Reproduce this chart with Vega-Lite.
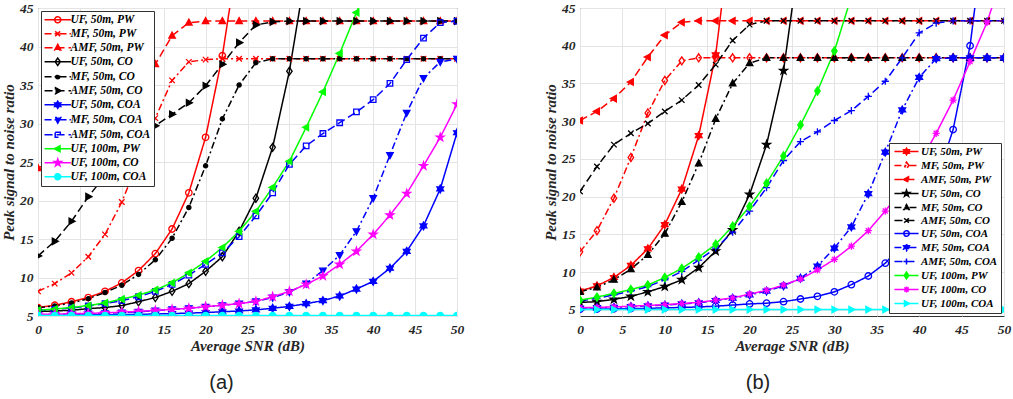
{
"$schema": "https://vega.github.io/schema/vega-lite/v6.json",
"background": "white",
"padding": {"left": 1, "top": 0, "right": 4, "bottom": 4},
"spacing": 78,
"config": {
  "font": "Liberation Serif",
  "view": {"stroke": "#333333", "strokeWidth": 1},
  "axis": {"labelFont": "Liberation Serif", "labelFontSize": 13.5, "labelFontWeight": "bold", "labelFontStyle": "italic", "labelColor": "#262626",
           "titleFont": "Liberation Serif", "titleFontSize": 15, "titleFontWeight": "bold", "titleFontStyle": "italic", "titleColor": "#262626",
           "grid": true, "gridColor": "#e4e4e4", "domain": false, "ticks": false},
  "legend": {"labelFont": "Liberation Serif", "labelFontWeight": "bold", "labelFontStyle": "italic", "labelColor": "#000000", "labelLimit": 300}
},
"resolve": {"scale": {"color": "independent", "stroke": "independent", "fill": "independent", "shape": "independent", "strokeDash": "independent", "x": "independent", "y": "independent"}, "legend": {"color": "independent"}},
"datasets": {
"a": [
{"s":"UF, 50m, PW","x":0,"y":6.1},{"s":"UF, 50m, PW","x":2,"y":6.4},{"s":"UF, 50m, PW","x":4,"y":6.85},{"s":"UF, 50m, PW","x":6,"y":7.4},{"s":"UF, 50m, PW","x":8,"y":8.2},{"s":"UF, 50m, PW","x":10,"y":9.3},{"s":"UF, 50m, PW","x":12,"y":10.9},{"s":"UF, 50m, PW","x":14,"y":13.1},{"s":"UF, 50m, PW","x":16,"y":16.3},{"s":"UF, 50m, PW","x":18,"y":21.0},{"s":"UF, 50m, PW","x":20,"y":28.2},{"s":"UF, 50m, PW","x":22,"y":38.8},{"s":"UF, 50m, PW","x":24,"y":53},
{"s":"MF, 50m, PW","x":0,"y":8.2},{"s":"MF, 50m, PW","x":2,"y":9.2},{"s":"MF, 50m, PW","x":4,"y":10.6},{"s":"MF, 50m, PW","x":6,"y":12.7},{"s":"MF, 50m, PW","x":8,"y":15.6},{"s":"MF, 50m, PW","x":10,"y":19.8},{"s":"MF, 50m, PW","x":12,"y":25.2},{"s":"MF, 50m, PW","x":14,"y":30.7},{"s":"MF, 50m, PW","x":16,"y":35.6},{"s":"MF, 50m, PW","x":18,"y":38.0},{"s":"MF, 50m, PW","x":20,"y":38.3},{"s":"MF, 50m, PW","x":22,"y":38.4},{"s":"MF, 50m, PW","x":24,"y":38.4},{"s":"MF, 50m, PW","x":26,"y":38.4},{"s":"MF, 50m, PW","x":28,"y":38.4},{"s":"MF, 50m, PW","x":30,"y":38.4},{"s":"MF, 50m, PW","x":32,"y":38.4},{"s":"MF, 50m, PW","x":34,"y":38.4},{"s":"MF, 50m, PW","x":36,"y":38.4},{"s":"MF, 50m, PW","x":38,"y":38.4},{"s":"MF, 50m, PW","x":40,"y":38.4},{"s":"MF, 50m, PW","x":42,"y":38.4},{"s":"MF, 50m, PW","x":44,"y":38.4},{"s":"MF, 50m, PW","x":46,"y":38.4},{"s":"MF, 50m, PW","x":48,"y":38.4},{"s":"MF, 50m, PW","x":50,"y":38.4},
{"s":"AMF, 50m, PW","x":0,"y":24.2},{"s":"AMF, 50m, PW","x":2,"y":25.3},{"s":"AMF, 50m, PW","x":4,"y":26.5},{"s":"AMF, 50m, PW","x":6,"y":28.0},{"s":"AMF, 50m, PW","x":8,"y":29.8},{"s":"AMF, 50m, PW","x":10,"y":32.0},{"s":"AMF, 50m, PW","x":12,"y":34.6},{"s":"AMF, 50m, PW","x":14,"y":37.7},{"s":"AMF, 50m, PW","x":16,"y":41.4},{"s":"AMF, 50m, PW","x":18,"y":43.1},{"s":"AMF, 50m, PW","x":20,"y":43.3},{"s":"AMF, 50m, PW","x":22,"y":43.3},{"s":"AMF, 50m, PW","x":24,"y":43.3},{"s":"AMF, 50m, PW","x":26,"y":43.3},{"s":"AMF, 50m, PW","x":28,"y":43.3},{"s":"AMF, 50m, PW","x":30,"y":43.3},{"s":"AMF, 50m, PW","x":32,"y":43.3},{"s":"AMF, 50m, PW","x":34,"y":43.3},{"s":"AMF, 50m, PW","x":36,"y":43.3},{"s":"AMF, 50m, PW","x":38,"y":43.3},{"s":"AMF, 50m, PW","x":40,"y":43.3},{"s":"AMF, 50m, PW","x":42,"y":43.3},{"s":"AMF, 50m, PW","x":44,"y":43.3},{"s":"AMF, 50m, PW","x":46,"y":43.3},{"s":"AMF, 50m, PW","x":48,"y":43.3},{"s":"AMF, 50m, PW","x":50,"y":43.3},
{"s":"UF, 50m, CO","x":0,"y":5.6},{"s":"UF, 50m, CO","x":2,"y":5.65},{"s":"UF, 50m, CO","x":4,"y":5.75},{"s":"UF, 50m, CO","x":6,"y":5.95},{"s":"UF, 50m, CO","x":8,"y":6.1},{"s":"UF, 50m, CO","x":10,"y":6.35},{"s":"UF, 50m, CO","x":12,"y":6.85},{"s":"UF, 50m, CO","x":14,"y":7.4},{"s":"UF, 50m, CO","x":16,"y":8.2},{"s":"UF, 50m, CO","x":18,"y":9.2},{"s":"UF, 50m, CO","x":20,"y":10.8},{"s":"UF, 50m, CO","x":22,"y":12.7},{"s":"UF, 50m, CO","x":24,"y":16.0},{"s":"UF, 50m, CO","x":26,"y":20.3},{"s":"UF, 50m, CO","x":28,"y":26.9},{"s":"UF, 50m, CO","x":30,"y":36.8},{"s":"UF, 50m, CO","x":32,"y":50},
{"s":"MF, 50m, CO","x":0,"y":6.1},{"s":"MF, 50m, CO","x":2,"y":6.3},{"s":"MF, 50m, CO","x":4,"y":6.7},{"s":"MF, 50m, CO","x":6,"y":7.25},{"s":"MF, 50m, CO","x":8,"y":8.05},{"s":"MF, 50m, CO","x":10,"y":9.0},{"s":"MF, 50m, CO","x":12,"y":10.4},{"s":"MF, 50m, CO","x":14,"y":12.3},{"s":"MF, 50m, CO","x":16,"y":15.1},{"s":"MF, 50m, CO","x":18,"y":19.1},{"s":"MF, 50m, CO","x":20,"y":24.5},{"s":"MF, 50m, CO","x":22,"y":30.6},{"s":"MF, 50m, CO","x":24,"y":35.0},{"s":"MF, 50m, CO","x":26,"y":37.9},{"s":"MF, 50m, CO","x":28,"y":38.4},{"s":"MF, 50m, CO","x":30,"y":38.4},{"s":"MF, 50m, CO","x":32,"y":38.4},{"s":"MF, 50m, CO","x":34,"y":38.4},{"s":"MF, 50m, CO","x":36,"y":38.4},{"s":"MF, 50m, CO","x":38,"y":38.4},{"s":"MF, 50m, CO","x":40,"y":38.4},{"s":"MF, 50m, CO","x":42,"y":38.4},{"s":"MF, 50m, CO","x":44,"y":38.4},{"s":"MF, 50m, CO","x":46,"y":38.4},{"s":"MF, 50m, CO","x":48,"y":38.4},{"s":"MF, 50m, CO","x":50,"y":38.4},
{"s":"AMF, 50m, CO","x":0,"y":12.8},{"s":"AMF, 50m, CO","x":2,"y":14.7},{"s":"AMF, 50m, CO","x":4,"y":17.3},{"s":"AMF, 50m, CO","x":6,"y":20.5},{"s":"AMF, 50m, CO","x":8,"y":23.2},{"s":"AMF, 50m, CO","x":10,"y":25.6},{"s":"AMF, 50m, CO","x":12,"y":27.8},{"s":"AMF, 50m, CO","x":14,"y":29.7},{"s":"AMF, 50m, CO","x":16,"y":31.2},{"s":"AMF, 50m, CO","x":18,"y":32.7},{"s":"AMF, 50m, CO","x":20,"y":34.9},{"s":"AMF, 50m, CO","x":22,"y":37.7},{"s":"AMF, 50m, CO","x":24,"y":40.5},{"s":"AMF, 50m, CO","x":26,"y":42.8},{"s":"AMF, 50m, CO","x":28,"y":43.2},{"s":"AMF, 50m, CO","x":30,"y":43.3},{"s":"AMF, 50m, CO","x":32,"y":43.3},{"s":"AMF, 50m, CO","x":34,"y":43.3},{"s":"AMF, 50m, CO","x":36,"y":43.3},{"s":"AMF, 50m, CO","x":38,"y":43.3},{"s":"AMF, 50m, CO","x":40,"y":43.3},{"s":"AMF, 50m, CO","x":42,"y":43.3},{"s":"AMF, 50m, CO","x":44,"y":43.3},{"s":"AMF, 50m, CO","x":46,"y":43.3},{"s":"AMF, 50m, CO","x":48,"y":43.3},{"s":"AMF, 50m, CO","x":50,"y":43.3},
{"s":"UF, 50m, COA","x":0,"y":5.1},{"s":"UF, 50m, COA","x":2,"y":5.1},{"s":"UF, 50m, COA","x":4,"y":5.12},{"s":"UF, 50m, COA","x":6,"y":5.14},{"s":"UF, 50m, COA","x":8,"y":5.16},{"s":"UF, 50m, COA","x":10,"y":5.19},{"s":"UF, 50m, COA","x":12,"y":5.22},{"s":"UF, 50m, COA","x":14,"y":5.26},{"s":"UF, 50m, COA","x":16,"y":5.31},{"s":"UF, 50m, COA","x":18,"y":5.38},{"s":"UF, 50m, COA","x":20,"y":5.45},{"s":"UF, 50m, COA","x":22,"y":5.55},{"s":"UF, 50m, COA","x":24,"y":5.65},{"s":"UF, 50m, COA","x":26,"y":5.8},{"s":"UF, 50m, COA","x":28,"y":6.0},{"s":"UF, 50m, COA","x":30,"y":6.25},{"s":"UF, 50m, COA","x":32,"y":6.6},{"s":"UF, 50m, COA","x":34,"y":7.0},{"s":"UF, 50m, COA","x":36,"y":7.6},{"s":"UF, 50m, COA","x":38,"y":8.5},{"s":"UF, 50m, COA","x":40,"y":9.5},{"s":"UF, 50m, COA","x":42,"y":11.2},{"s":"UF, 50m, COA","x":44,"y":13.4},{"s":"UF, 50m, COA","x":46,"y":16.7},{"s":"UF, 50m, COA","x":48,"y":21.5},{"s":"UF, 50m, COA","x":50,"y":28.8},
{"s":"MF, 50m, COA","x":0,"y":5.15},{"s":"MF, 50m, COA","x":2,"y":5.2},{"s":"MF, 50m, COA","x":4,"y":5.25},{"s":"MF, 50m, COA","x":6,"y":5.3},{"s":"MF, 50m, COA","x":8,"y":5.35},{"s":"MF, 50m, COA","x":10,"y":5.45},{"s":"MF, 50m, COA","x":12,"y":5.55},{"s":"MF, 50m, COA","x":14,"y":5.7},{"s":"MF, 50m, COA","x":16,"y":5.85},{"s":"MF, 50m, COA","x":18,"y":6.0},{"s":"MF, 50m, COA","x":20,"y":6.2},{"s":"MF, 50m, COA","x":22,"y":6.4},{"s":"MF, 50m, COA","x":24,"y":6.6},{"s":"MF, 50m, COA","x":26,"y":6.9},{"s":"MF, 50m, COA","x":28,"y":7.4},{"s":"MF, 50m, COA","x":30,"y":8.1},{"s":"MF, 50m, COA","x":32,"y":9.2},{"s":"MF, 50m, COA","x":34,"y":10.9},{"s":"MF, 50m, COA","x":36,"y":12.9},{"s":"MF, 50m, COA","x":38,"y":16.0},{"s":"MF, 50m, COA","x":40,"y":20.3},{"s":"MF, 50m, COA","x":42,"y":25.9},{"s":"MF, 50m, COA","x":44,"y":31.4},{"s":"MF, 50m, COA","x":46,"y":35.9},{"s":"MF, 50m, COA","x":48,"y":38.0},{"s":"MF, 50m, COA","x":50,"y":38.4},
{"s":"AMF, 50m, COA","x":0,"y":5.7},{"s":"AMF, 50m, COA","x":2,"y":5.85},{"s":"AMF, 50m, COA","x":4,"y":6.05},{"s":"AMF, 50m, COA","x":6,"y":6.3},{"s":"AMF, 50m, COA","x":8,"y":6.6},{"s":"AMF, 50m, COA","x":10,"y":7.0},{"s":"AMF, 50m, COA","x":12,"y":7.5},{"s":"AMF, 50m, COA","x":14,"y":8.2},{"s":"AMF, 50m, COA","x":16,"y":9.1},{"s":"AMF, 50m, COA","x":18,"y":10.3},{"s":"AMF, 50m, COA","x":20,"y":11.7},{"s":"AMF, 50m, COA","x":22,"y":13.2},{"s":"AMF, 50m, COA","x":24,"y":15.3},{"s":"AMF, 50m, COA","x":26,"y":18.0},{"s":"AMF, 50m, COA","x":28,"y":21.0},{"s":"AMF, 50m, COA","x":30,"y":24.7},{"s":"AMF, 50m, COA","x":32,"y":27.1},{"s":"AMF, 50m, COA","x":34,"y":28.7},{"s":"AMF, 50m, COA","x":36,"y":30.1},{"s":"AMF, 50m, COA","x":38,"y":31.5},{"s":"AMF, 50m, COA","x":40,"y":33.1},{"s":"AMF, 50m, COA","x":42,"y":35.2},{"s":"AMF, 50m, COA","x":44,"y":38.3},{"s":"AMF, 50m, COA","x":46,"y":41.1},{"s":"AMF, 50m, COA","x":48,"y":43.1},{"s":"AMF, 50m, COA","x":50,"y":43.3},
{"s":"UF, 100m, PW","x":0,"y":5.75},{"s":"UF, 100m, PW","x":2,"y":5.9},{"s":"UF, 100m, PW","x":4,"y":6.1},{"s":"UF, 100m, PW","x":6,"y":6.35},{"s":"UF, 100m, PW","x":8,"y":6.7},{"s":"UF, 100m, PW","x":10,"y":7.2},{"s":"UF, 100m, PW","x":12,"y":7.7},{"s":"UF, 100m, PW","x":14,"y":8.4},{"s":"UF, 100m, PW","x":16,"y":9.3},{"s":"UF, 100m, PW","x":18,"y":10.6},{"s":"UF, 100m, PW","x":20,"y":12.1},{"s":"UF, 100m, PW","x":22,"y":13.9},{"s":"UF, 100m, PW","x":24,"y":16.0},{"s":"UF, 100m, PW","x":26,"y":18.6},{"s":"UF, 100m, PW","x":28,"y":21.7},{"s":"UF, 100m, PW","x":30,"y":25.1},{"s":"UF, 100m, PW","x":32,"y":29.5},{"s":"UF, 100m, PW","x":34,"y":34.1},{"s":"UF, 100m, PW","x":36,"y":39.1},{"s":"UF, 100m, PW","x":38,"y":44.4},{"s":"UF, 100m, PW","x":40,"y":50},
{"s":"UF, 100m, CO","x":0,"y":5.2},{"s":"UF, 100m, CO","x":2,"y":5.25},{"s":"UF, 100m, CO","x":4,"y":5.3},{"s":"UF, 100m, CO","x":6,"y":5.35},{"s":"UF, 100m, CO","x":8,"y":5.4},{"s":"UF, 100m, CO","x":10,"y":5.5},{"s":"UF, 100m, CO","x":12,"y":5.6},{"s":"UF, 100m, CO","x":14,"y":5.72},{"s":"UF, 100m, CO","x":16,"y":5.85},{"s":"UF, 100m, CO","x":18,"y":6.0},{"s":"UF, 100m, CO","x":20,"y":6.2},{"s":"UF, 100m, CO","x":22,"y":6.4},{"s":"UF, 100m, CO","x":24,"y":6.6},{"s":"UF, 100m, CO","x":26,"y":6.9},{"s":"UF, 100m, CO","x":28,"y":7.5},{"s":"UF, 100m, CO","x":30,"y":8.2},{"s":"UF, 100m, CO","x":32,"y":9.1},{"s":"UF, 100m, CO","x":34,"y":10.2},{"s":"UF, 100m, CO","x":36,"y":11.7},{"s":"UF, 100m, CO","x":38,"y":13.4},{"s":"UF, 100m, CO","x":40,"y":15.6},{"s":"UF, 100m, CO","x":42,"y":18.1},{"s":"UF, 100m, CO","x":44,"y":20.9},{"s":"UF, 100m, CO","x":46,"y":24.5},{"s":"UF, 100m, CO","x":48,"y":28.2},{"s":"UF, 100m, CO","x":50,"y":32.5},
{"s":"UF, 100m, COA","x":0,"y":5.05},{"s":"UF, 100m, COA","x":2,"y":5.05},{"s":"UF, 100m, COA","x":4,"y":5.05},{"s":"UF, 100m, COA","x":6,"y":5.05},{"s":"UF, 100m, COA","x":8,"y":5.05},{"s":"UF, 100m, COA","x":10,"y":5.05},{"s":"UF, 100m, COA","x":12,"y":5.05},{"s":"UF, 100m, COA","x":14,"y":5.05},{"s":"UF, 100m, COA","x":16,"y":5.05},{"s":"UF, 100m, COA","x":18,"y":5.05},{"s":"UF, 100m, COA","x":20,"y":5.05},{"s":"UF, 100m, COA","x":22,"y":5.05},{"s":"UF, 100m, COA","x":24,"y":5.05},{"s":"UF, 100m, COA","x":26,"y":5.05},{"s":"UF, 100m, COA","x":28,"y":5.05},{"s":"UF, 100m, COA","x":30,"y":5.05},{"s":"UF, 100m, COA","x":32,"y":5.05},{"s":"UF, 100m, COA","x":34,"y":5.05},{"s":"UF, 100m, COA","x":36,"y":5.05},{"s":"UF, 100m, COA","x":38,"y":5.05},{"s":"UF, 100m, COA","x":40,"y":5.05},{"s":"UF, 100m, COA","x":42,"y":5.05},{"s":"UF, 100m, COA","x":44,"y":5.05},{"s":"UF, 100m, COA","x":46,"y":5.05},{"s":"UF, 100m, COA","x":48,"y":5.05},{"s":"UF, 100m, COA","x":50,"y":5.05}
],
"b": [
{"s":"UF, 50m, PW","x":0,"y":7.5},{"s":"UF, 50m, PW","x":2,"y":8.2},{"s":"UF, 50m, PW","x":4,"y":9.3},{"s":"UF, 50m, PW","x":6,"y":10.9},{"s":"UF, 50m, PW","x":8,"y":13.1},{"s":"UF, 50m, PW","x":10,"y":16.3},{"s":"UF, 50m, PW","x":12,"y":21.0},{"s":"UF, 50m, PW","x":14,"y":28.1},{"s":"UF, 50m, PW","x":16,"y":38.8},{"s":"UF, 50m, PW","x":18,"y":57},
{"s":"MF, 50m, PW","x":0,"y":12.7},{"s":"MF, 50m, PW","x":2,"y":15.5},{"s":"MF, 50m, PW","x":4,"y":19.8},{"s":"MF, 50m, PW","x":6,"y":25.2},{"s":"MF, 50m, PW","x":8,"y":31.1},{"s":"MF, 50m, PW","x":10,"y":35.4},{"s":"MF, 50m, PW","x":12,"y":38.0},{"s":"MF, 50m, PW","x":14,"y":38.4},{"s":"MF, 50m, PW","x":16,"y":38.4},{"s":"MF, 50m, PW","x":18,"y":38.4},{"s":"MF, 50m, PW","x":20,"y":38.4},{"s":"MF, 50m, PW","x":22,"y":38.4},{"s":"MF, 50m, PW","x":24,"y":38.4},{"s":"MF, 50m, PW","x":26,"y":38.4},{"s":"MF, 50m, PW","x":28,"y":38.4},{"s":"MF, 50m, PW","x":30,"y":38.4},{"s":"MF, 50m, PW","x":32,"y":38.4},{"s":"MF, 50m, PW","x":34,"y":38.4},{"s":"MF, 50m, PW","x":36,"y":38.4},{"s":"MF, 50m, PW","x":38,"y":38.4},{"s":"MF, 50m, PW","x":40,"y":38.4},{"s":"MF, 50m, PW","x":42,"y":38.4},{"s":"MF, 50m, PW","x":44,"y":38.4},{"s":"MF, 50m, PW","x":46,"y":38.4},{"s":"MF, 50m, PW","x":48,"y":38.4},{"s":"MF, 50m, PW","x":50,"y":38.4},
{"s":"AMF, 50m, PW","x":0,"y":30.1},{"s":"AMF, 50m, PW","x":2,"y":31.3},{"s":"AMF, 50m, PW","x":4,"y":33.0},{"s":"AMF, 50m, PW","x":6,"y":35.2},{"s":"AMF, 50m, PW","x":8,"y":38.5},{"s":"AMF, 50m, PW","x":10,"y":41.4},{"s":"AMF, 50m, PW","x":12,"y":43.1},{"s":"AMF, 50m, PW","x":14,"y":43.3},{"s":"AMF, 50m, PW","x":16,"y":43.3},{"s":"AMF, 50m, PW","x":18,"y":43.3},{"s":"AMF, 50m, PW","x":20,"y":43.3},{"s":"AMF, 50m, PW","x":22,"y":43.3},{"s":"AMF, 50m, PW","x":24,"y":43.3},{"s":"AMF, 50m, PW","x":26,"y":43.3},{"s":"AMF, 50m, PW","x":28,"y":43.3},{"s":"AMF, 50m, PW","x":30,"y":43.3},{"s":"AMF, 50m, PW","x":32,"y":43.3},{"s":"AMF, 50m, PW","x":34,"y":43.3},{"s":"AMF, 50m, PW","x":36,"y":43.3},{"s":"AMF, 50m, PW","x":38,"y":43.3},{"s":"AMF, 50m, PW","x":40,"y":43.3},{"s":"AMF, 50m, PW","x":42,"y":43.3},{"s":"AMF, 50m, PW","x":44,"y":43.3},{"s":"AMF, 50m, PW","x":46,"y":43.3},{"s":"AMF, 50m, PW","x":48,"y":43.3},{"s":"AMF, 50m, PW","x":50,"y":43.3},
{"s":"UF, 50m, CO","x":0,"y":6.0},{"s":"UF, 50m, CO","x":2,"y":6.1},{"s":"UF, 50m, CO","x":4,"y":6.4},{"s":"UF, 50m, CO","x":6,"y":6.8},{"s":"UF, 50m, CO","x":8,"y":7.4},{"s":"UF, 50m, CO","x":10,"y":8.1},{"s":"UF, 50m, CO","x":12,"y":9.0},{"s":"UF, 50m, CO","x":14,"y":10.6},{"s":"UF, 50m, CO","x":16,"y":12.8},{"s":"UF, 50m, CO","x":18,"y":15.6},{"s":"UF, 50m, CO","x":20,"y":20.3},{"s":"UF, 50m, CO","x":22,"y":26.9},{"s":"UF, 50m, CO","x":24,"y":36.7},{"s":"UF, 50m, CO","x":26,"y":53},
{"s":"MF, 50m, CO","x":0,"y":7.4},{"s":"MF, 50m, CO","x":2,"y":8.0},{"s":"MF, 50m, CO","x":4,"y":9.0},{"s":"MF, 50m, CO","x":6,"y":10.4},{"s":"MF, 50m, CO","x":8,"y":12.3},{"s":"MF, 50m, CO","x":10,"y":15.1},{"s":"MF, 50m, CO","x":12,"y":19.3},{"s":"MF, 50m, CO","x":14,"y":24.4},{"s":"MF, 50m, CO","x":16,"y":30.3},{"s":"MF, 50m, CO","x":18,"y":35.0},{"s":"MF, 50m, CO","x":20,"y":37.7},{"s":"MF, 50m, CO","x":22,"y":38.4},{"s":"MF, 50m, CO","x":24,"y":38.4},{"s":"MF, 50m, CO","x":26,"y":38.4},{"s":"MF, 50m, CO","x":28,"y":38.4},{"s":"MF, 50m, CO","x":30,"y":38.4},{"s":"MF, 50m, CO","x":32,"y":38.4},{"s":"MF, 50m, CO","x":34,"y":38.4},{"s":"MF, 50m, CO","x":36,"y":38.4},{"s":"MF, 50m, CO","x":38,"y":38.4},{"s":"MF, 50m, CO","x":40,"y":38.4},{"s":"MF, 50m, CO","x":42,"y":38.4},{"s":"MF, 50m, CO","x":44,"y":38.4},{"s":"MF, 50m, CO","x":46,"y":38.4},{"s":"MF, 50m, CO","x":48,"y":38.4},{"s":"MF, 50m, CO","x":50,"y":38.4},
{"s":"AMF, 50m, CO","x":0,"y":20.7},{"s":"AMF, 50m, CO","x":2,"y":24.0},{"s":"AMF, 50m, CO","x":4,"y":26.9},{"s":"AMF, 50m, CO","x":6,"y":28.4},{"s":"AMF, 50m, CO","x":8,"y":29.7},{"s":"AMF, 50m, CO","x":10,"y":31.3},{"s":"AMF, 50m, CO","x":12,"y":32.8},{"s":"AMF, 50m, CO","x":14,"y":34.8},{"s":"AMF, 50m, CO","x":16,"y":37.5},{"s":"AMF, 50m, CO","x":18,"y":40.7},{"s":"AMF, 50m, CO","x":20,"y":42.8},{"s":"AMF, 50m, CO","x":22,"y":43.3},{"s":"AMF, 50m, CO","x":24,"y":43.3},{"s":"AMF, 50m, CO","x":26,"y":43.3},{"s":"AMF, 50m, CO","x":28,"y":43.3},{"s":"AMF, 50m, CO","x":30,"y":43.3},{"s":"AMF, 50m, CO","x":32,"y":43.3},{"s":"AMF, 50m, CO","x":34,"y":43.3},{"s":"AMF, 50m, CO","x":36,"y":43.3},{"s":"AMF, 50m, CO","x":38,"y":43.3},{"s":"AMF, 50m, CO","x":40,"y":43.3},{"s":"AMF, 50m, CO","x":42,"y":43.3},{"s":"AMF, 50m, CO","x":44,"y":43.3},{"s":"AMF, 50m, CO","x":46,"y":43.3},{"s":"AMF, 50m, CO","x":48,"y":43.3},{"s":"AMF, 50m, CO","x":50,"y":43.3},
{"s":"UF, 50m, COA","x":0,"y":5.1},{"s":"UF, 50m, COA","x":2,"y":5.12},{"s":"UF, 50m, COA","x":4,"y":5.15},{"s":"UF, 50m, COA","x":6,"y":5.18},{"s":"UF, 50m, COA","x":8,"y":5.22},{"s":"UF, 50m, COA","x":10,"y":5.27},{"s":"UF, 50m, COA","x":12,"y":5.33},{"s":"UF, 50m, COA","x":14,"y":5.4},{"s":"UF, 50m, COA","x":16,"y":5.5},{"s":"UF, 50m, COA","x":18,"y":5.65},{"s":"UF, 50m, COA","x":20,"y":5.8},{"s":"UF, 50m, COA","x":22,"y":5.9},{"s":"UF, 50m, COA","x":24,"y":6.1},{"s":"UF, 50m, COA","x":26,"y":6.45},{"s":"UF, 50m, COA","x":28,"y":6.8},{"s":"UF, 50m, COA","x":30,"y":7.4},{"s":"UF, 50m, COA","x":32,"y":8.35},{"s":"UF, 50m, COA","x":34,"y":9.5},{"s":"UF, 50m, COA","x":36,"y":11.2},{"s":"UF, 50m, COA","x":38,"y":13.6},{"s":"UF, 50m, COA","x":40,"y":17.2},{"s":"UF, 50m, COA","x":42,"y":22.0},{"s":"UF, 50m, COA","x":44,"y":28.9},{"s":"UF, 50m, COA","x":46,"y":40.0},{"s":"UF, 50m, COA","x":48,"y":58},
{"s":"MF, 50m, COA","x":0,"y":5.25},{"s":"MF, 50m, COA","x":2,"y":5.3},{"s":"MF, 50m, COA","x":4,"y":5.35},{"s":"MF, 50m, COA","x":6,"y":5.45},{"s":"MF, 50m, COA","x":8,"y":5.55},{"s":"MF, 50m, COA","x":10,"y":5.65},{"s":"MF, 50m, COA","x":12,"y":5.8},{"s":"MF, 50m, COA","x":14,"y":5.95},{"s":"MF, 50m, COA","x":16,"y":6.25},{"s":"MF, 50m, COA","x":18,"y":6.55},{"s":"MF, 50m, COA","x":20,"y":7.0},{"s":"MF, 50m, COA","x":22,"y":7.5},{"s":"MF, 50m, COA","x":24,"y":8.2},{"s":"MF, 50m, COA","x":26,"y":9.2},{"s":"MF, 50m, COA","x":28,"y":10.8},{"s":"MF, 50m, COA","x":30,"y":13.2},{"s":"MF, 50m, COA","x":32,"y":16.0},{"s":"MF, 50m, COA","x":34,"y":20.4},{"s":"MF, 50m, COA","x":36,"y":25.9},{"s":"MF, 50m, COA","x":38,"y":31.5},{"s":"MF, 50m, COA","x":40,"y":35.8},{"s":"MF, 50m, COA","x":42,"y":38.3},{"s":"MF, 50m, COA","x":44,"y":38.4},{"s":"MF, 50m, COA","x":46,"y":38.4},{"s":"MF, 50m, COA","x":48,"y":38.4},{"s":"MF, 50m, COA","x":50,"y":38.4},
{"s":"AMF, 50m, COA","x":0,"y":6.2},{"s":"AMF, 50m, COA","x":2,"y":6.55},{"s":"AMF, 50m, COA","x":4,"y":7.0},{"s":"AMF, 50m, COA","x":6,"y":7.5},{"s":"AMF, 50m, COA","x":8,"y":8.1},{"s":"AMF, 50m, COA","x":10,"y":9.0},{"s":"AMF, 50m, COA","x":12,"y":10.1},{"s":"AMF, 50m, COA","x":14,"y":11.6},{"s":"AMF, 50m, COA","x":16,"y":13.2},{"s":"AMF, 50m, COA","x":18,"y":15.3},{"s":"AMF, 50m, COA","x":20,"y":18.1},{"s":"AMF, 50m, COA","x":22,"y":21.2},{"s":"AMF, 50m, COA","x":24,"y":24.8},{"s":"AMF, 50m, COA","x":26,"y":27.3},{"s":"AMF, 50m, COA","x":28,"y":28.6},{"s":"AMF, 50m, COA","x":30,"y":30.1},{"s":"AMF, 50m, COA","x":32,"y":31.4},{"s":"AMF, 50m, COA","x":34,"y":33.3},{"s":"AMF, 50m, COA","x":36,"y":35.3},{"s":"AMF, 50m, COA","x":38,"y":38.4},{"s":"AMF, 50m, COA","x":40,"y":41.7},{"s":"AMF, 50m, COA","x":42,"y":43.0},{"s":"AMF, 50m, COA","x":44,"y":43.3},{"s":"AMF, 50m, COA","x":46,"y":43.3},{"s":"AMF, 50m, COA","x":48,"y":43.3},{"s":"AMF, 50m, COA","x":50,"y":43.3},
{"s":"UF, 100m, PW","x":0,"y":6.3},{"s":"UF, 100m, PW","x":2,"y":6.7},{"s":"UF, 100m, PW","x":4,"y":7.2},{"s":"UF, 100m, PW","x":6,"y":7.7},{"s":"UF, 100m, PW","x":8,"y":8.3},{"s":"UF, 100m, PW","x":10,"y":9.3},{"s":"UF, 100m, PW","x":12,"y":10.5},{"s":"UF, 100m, PW","x":14,"y":12.0},{"s":"UF, 100m, PW","x":16,"y":13.7},{"s":"UF, 100m, PW","x":18,"y":16.1},{"s":"UF, 100m, PW","x":20,"y":18.7},{"s":"UF, 100m, PW","x":22,"y":21.8},{"s":"UF, 100m, PW","x":24,"y":25.4},{"s":"UF, 100m, PW","x":26,"y":29.5},{"s":"UF, 100m, PW","x":28,"y":34.0},{"s":"UF, 100m, PW","x":30,"y":39.3},{"s":"UF, 100m, PW","x":32,"y":46.5},
{"s":"UF, 100m, CO","x":0,"y":5.3},{"s":"UF, 100m, CO","x":2,"y":5.35},{"s":"UF, 100m, CO","x":4,"y":5.4},{"s":"UF, 100m, CO","x":6,"y":5.5},{"s":"UF, 100m, CO","x":8,"y":5.6},{"s":"UF, 100m, CO","x":10,"y":5.7},{"s":"UF, 100m, CO","x":12,"y":5.85},{"s":"UF, 100m, CO","x":14,"y":6.0},{"s":"UF, 100m, CO","x":16,"y":6.3},{"s":"UF, 100m, CO","x":18,"y":6.6},{"s":"UF, 100m, CO","x":20,"y":7.1},{"s":"UF, 100m, CO","x":22,"y":7.6},{"s":"UF, 100m, CO","x":24,"y":8.3},{"s":"UF, 100m, CO","x":26,"y":9.1},{"s":"UF, 100m, CO","x":28,"y":10.3},{"s":"UF, 100m, CO","x":30,"y":11.7},{"s":"UF, 100m, CO","x":32,"y":13.45},{"s":"UF, 100m, CO","x":34,"y":15.5},{"s":"UF, 100m, CO","x":36,"y":18.1},{"s":"UF, 100m, CO","x":38,"y":21.0},{"s":"UF, 100m, CO","x":40,"y":24.4},{"s":"UF, 100m, CO","x":42,"y":28.4},{"s":"UF, 100m, CO","x":44,"y":32.8},{"s":"UF, 100m, CO","x":46,"y":37.9},{"s":"UF, 100m, CO","x":48,"y":43.1},{"s":"UF, 100m, CO","x":50,"y":50},
{"s":"UF, 100m, COA","x":0,"y":5.05},{"s":"UF, 100m, COA","x":2,"y":5.05},{"s":"UF, 100m, COA","x":4,"y":5.05},{"s":"UF, 100m, COA","x":6,"y":5.05},{"s":"UF, 100m, COA","x":8,"y":5.05},{"s":"UF, 100m, COA","x":10,"y":5.05},{"s":"UF, 100m, COA","x":12,"y":5.05},{"s":"UF, 100m, COA","x":14,"y":5.05},{"s":"UF, 100m, COA","x":16,"y":5.05},{"s":"UF, 100m, COA","x":18,"y":5.05},{"s":"UF, 100m, COA","x":20,"y":5.05},{"s":"UF, 100m, COA","x":22,"y":5.05},{"s":"UF, 100m, COA","x":24,"y":5.05},{"s":"UF, 100m, COA","x":26,"y":5.05},{"s":"UF, 100m, COA","x":28,"y":5.05},{"s":"UF, 100m, COA","x":30,"y":5.05},{"s":"UF, 100m, COA","x":32,"y":5.05},{"s":"UF, 100m, COA","x":34,"y":5.05},{"s":"UF, 100m, COA","x":36,"y":5.05},{"s":"UF, 100m, COA","x":38,"y":5.05},{"s":"UF, 100m, COA","x":40,"y":5.05},{"s":"UF, 100m, COA","x":42,"y":5.05},{"s":"UF, 100m, COA","x":44,"y":5.05},{"s":"UF, 100m, COA","x":46,"y":5.05},{"s":"UF, 100m, COA","x":48,"y":5.05},{"s":"UF, 100m, COA","x":50,"y":5.05}
]
},
"hconcat": [
{
  "width": 419, "height": 308,
  "data": {"name": "a"},
  "title": {"text": "(a)", "orient": "bottom", "anchor": "middle", "frame": "group", "font": "Liberation Sans", "fontSize": 20, "fontWeight": "normal", "fontStyle": "normal", "color": "#222222", "offset": 19, "dx": -26},
  "encoding": {
    "x": {"field": "x", "type": "quantitative", "scale": {"domain": [0, 50], "nice": false, "zero": false}, "axis": {"values": [0,5,10,15,20,25,30,35,40,45,50], "title": "Average SNR (dB)", "labelFlush": false, "labelPadding": 6, "titlePadding": 3}},
    "y": {"field": "y", "type": "quantitative", "scale": {"domain": [5, 45], "nice": false, "zero": false}, "axis": {"values": [5,10,15,20,25,30,35,40,45], "title": "Peak signal to noise ratio", "labelPadding": 5, "titlePadding": 3}}
  },
  "layer": [
    {"mark": {"type": "line", "clip": true, "strokeWidth": 1.5},
     "encoding": {
       "color": {"field": "s", "type": "nominal",
         "scale": {"domain": ["UF, 50m, PW","MF, 50m, PW","AMF, 50m, PW","UF, 50m, CO","MF, 50m, CO","AMF, 50m, CO","UF, 50m, COA","MF, 50m, COA","AMF, 50m, COA","UF, 100m, PW","UF, 100m, CO","UF, 100m, COA"],
                   "range": ["#FF0000","#FF0000","#FF0000","#000000","#000000","#000000","#0000FF","#0000FF","#0000FF","#00FF00","#FF00FF","#00FFFF"]},
         "legend": {"orient": "top-left", "title": null, "offset": 3, "padding": 3, "fillColor": "white", "strokeColor": "#333333", "labelFontSize": 11.5, "symbolSize": 36, "symbolOffset": 8, "labelOffset": 7, "rowPadding": 1, "symbolStrokeWidth": 1.5,
           "encoding": {"symbols": {
             "shape": {"value": {"expr": "['M-4.4,0L4.4,0M-1,0A1,1,0,1,0,1,0A1,1,0,1,0,-1,0Z','M-4.4,0L4.4,0M-0.85,-0.85L0.85,0.85M-0.85,0.85L0.85,-0.85','M-4.4,0L4.4,0M0,-1.1L1,0.75L-1,0.75Z','M-4.4,0L4.4,0M0,-1.25L0.85,0L0,1.25L-0.85,0Z','M-4.4,0L4.4,0M-0.65,0A0.65,0.65,0,1,0,0.65,0A0.65,0.65,0,1,0,-0.65,0Z','M-4.4,0L4.4,0M1.1,0L-0.75,-1L-0.75,1Z','M-4.4,0L4.4,0M0,-1.2L0.35,-0.6L1.04,-0.6L0.69,0L1.04,0.6L0.35,0.6L0,1.2L-0.35,0.6L-1.04,0.6L-0.69,0L-1.04,-0.6L-0.35,-0.6Z','M-4.4,0L4.4,0M0,1.1L1,-0.75L-1,-0.75Z','M-4.4,0L4.4,0M-0.85,-0.85L0.85,-0.85L0.85,0.85L-0.85,0.85Z','M-4.4,0L4.4,0M-1.1,0L0.75,-1L0.75,1Z','M-4.4,0L4.4,0M0,-1.25L0.28,-0.39L1.19,-0.39L0.46,0.15L0.73,1.01L0,0.48L-0.73,1.01L-0.46,0.15L-1.19,-0.39L-0.28,-0.39Z','M-4.4,0L4.4,0M-1,0A1,1,0,1,0,1,0A1,1,0,1,0,-1,0Z'][datum.index]"}},
             "strokeDash": {"value": {"expr": "[[1,0],[7,3,2,3],[8,4],[1,0],[7,3,2,3],[8,4],[1,0],[7,3,2,3],[8,4],[1,0],[1,0],[1,0]][datum.index]"}},
             "fill": {"value": {"expr": "['transparent','transparent','#FF0000','transparent','#000000','#000000','#0000FF','#0000FF','transparent','#00FF00','#FF00FF','#00FFFF'][datum.index]"}},
             "fillOpacity": {"value": 1}
           }}}},
       "strokeDash": {"field": "s", "type": "nominal", "legend": null,
         "scale": {"domain": ["UF, 100m, COA","UF, 100m, CO","UF, 100m, PW","AMF, 50m, COA","MF, 50m, COA","UF, 50m, COA","AMF, 50m, CO","MF, 50m, CO","UF, 50m, CO","AMF, 50m, PW","MF, 50m, PW","UF, 50m, PW"],
                   "range": [[1,0],[1,0],[1,0],[8,4],[7,3,2,3],[1,0],[8,4],[7,3,2,3],[1,0],[8,4],[7,3,2,3],[1,0]]}}
     }},
    {"mark": {"type": "point", "clip": true, "opacity": 1, "size": 42, "strokeWidth": 1.3},
     "encoding": {
       "shape": {"field": "s", "type": "nominal", "legend": null,
         "scale": {"domain": ["UF, 100m, COA","UF, 100m, CO","UF, 100m, PW","AMF, 50m, COA","MF, 50m, COA","UF, 50m, COA","AMF, 50m, CO","MF, 50m, CO","UF, 50m, CO","AMF, 50m, PW","MF, 50m, PW","UF, 50m, PW"],
                   "range": ["M-1,0A1,1,0,1,0,1,0A1,1,0,1,0,-1,0Z","M0,-1.25L0.28,-0.39L1.19,-0.39L0.46,0.15L0.73,1.01L0,0.48L-0.73,1.01L-0.46,0.15L-1.19,-0.39L-0.28,-0.39Z","M-1.1,0L0.75,-1L0.75,1Z","M-0.85,-0.85L0.85,-0.85L0.85,0.85L-0.85,0.85Z","M0,1.1L1,-0.75L-1,-0.75Z","M0,-1.2L0.35,-0.6L1.04,-0.6L0.69,0L1.04,0.6L0.35,0.6L0,1.2L-0.35,0.6L-1.04,0.6L-0.69,0L-1.04,-0.6L-0.35,-0.6Z","M1.1,0L-0.75,-1L-0.75,1Z","M-0.65,0A0.65,0.65,0,1,0,0.65,0A0.65,0.65,0,1,0,-0.65,0Z","M0,-1.25L0.85,0L0,1.25L-0.85,0Z","M0,-1.1L1,0.75L-1,0.75Z","M-0.85,-0.85L0.85,0.85M-0.85,0.85L0.85,-0.85","M-1,0A1,1,0,1,0,1,0A1,1,0,1,0,-1,0Z"]}},
       "stroke": {"field": "s", "type": "nominal", "legend": null,
         "scale": {"domain": ["UF, 100m, COA","UF, 100m, CO","UF, 100m, PW","AMF, 50m, COA","MF, 50m, COA","UF, 50m, COA","AMF, 50m, CO","MF, 50m, CO","UF, 50m, CO","AMF, 50m, PW","MF, 50m, PW","UF, 50m, PW"],
                   "range": ["#00FFFF","#FF00FF","#00FF00","#0000FF","#0000FF","#0000FF","#000000","#000000","#000000","#FF0000","#FF0000","#FF0000"]}},
       "fill": {"field": "s", "type": "nominal", "legend": null,
         "scale": {"domain": ["UF, 100m, COA","UF, 100m, CO","UF, 100m, PW","AMF, 50m, COA","MF, 50m, COA","UF, 50m, COA","AMF, 50m, CO","MF, 50m, CO","UF, 50m, CO","AMF, 50m, PW","MF, 50m, PW","UF, 50m, PW"],
                   "range": ["#00FFFF","#FF00FF","#00FF00","transparent","#0000FF","#0000FF","#000000","#000000","transparent","#FF0000","transparent","transparent"]}}
     }}
  ]
},
{
  "width": 424, "height": 308,
  "data": {"name": "b"},
  "title": {"text": "(b)", "orient": "bottom", "anchor": "middle", "frame": "group", "font": "Liberation Sans", "fontSize": 20, "fontWeight": "normal", "fontStyle": "normal", "color": "#222222", "offset": 19, "dx": -34},
  "encoding": {
    "x": {"field": "x", "type": "quantitative", "scale": {"domain": [0, 50], "nice": false, "zero": false}, "axis": {"values": [0,5,10,15,20,25,30,35,40,45,50], "title": "Average SNR (dB)", "labelFlush": false, "labelPadding": 6, "titlePadding": 3}},
    "y": {"field": "y", "type": "quantitative", "scale": {"domain": [4.2, 45], "nice": false, "zero": false}, "axis": {"values": [5,10,15,20,25,30,35,40,45], "title": "Peak signal to noise ratio", "labelPadding": 5, "titlePadding": 3}}
  },
  "layer": [
    {"mark": {"type": "line", "clip": true, "strokeWidth": 1.5},
     "encoding": {
       "color": {"field": "s", "type": "nominal",
         "scale": {"domain": ["UF, 50m, PW","MF, 50m, PW","AMF, 50m, PW","UF, 50m, CO","MF, 50m, CO","AMF, 50m, CO","UF, 50m, COA","MF, 50m, COA","AMF, 50m, COA","UF, 100m, PW","UF, 100m, CO","UF, 100m, COA"],
                   "range": ["#FF0000","#FF0000","#FF0000","#000000","#000000","#000000","#0000FF","#0000FF","#0000FF","#00FF00","#FF00FF","#00FFFF"]},
         "legend": {"orient": "bottom-right", "title": null, "offset": 3, "padding": 3, "fillColor": "white", "strokeColor": "#333333", "labelFontSize": 11, "symbolSize": 30, "symbolOffset": 9, "labelOffset": 9, "rowPadding": 1, "symbolStrokeWidth": 1.5,
           "encoding": {"symbols": {
             "shape": {"value": {"expr": "['M-4.4,0L4.4,0M0,-1.2L0.35,-0.6L1.04,-0.6L0.69,0L1.04,0.6L0.35,0.6L0,1.2L-0.35,0.6L-1.04,0.6L-0.69,0L-1.04,-0.6L-0.35,-0.6Z','M-4.4,0L4.4,0M0,-1.25L0.85,0L0,1.25L-0.85,0Z','M-4.4,0L4.4,0M-1.1,0L0.75,-1L0.75,1Z','M-4.4,0L4.4,0M0,-1.25L0.28,-0.39L1.19,-0.39L0.46,0.15L0.73,1.01L0,0.48L-0.73,1.01L-0.46,0.15L-1.19,-0.39L-0.28,-0.39Z','M-4.4,0L4.4,0M0,-1.1L1,0.75L-1,0.75Z','M-4.4,0L4.4,0M-0.85,-0.85L0.85,0.85M-0.85,0.85L0.85,-0.85','M-4.4,0L4.4,0M-1,0A1,1,0,1,0,1,0A1,1,0,1,0,-1,0Z','M-4.4,0L4.4,0M0,-1.2L0.35,-0.6L1.04,-0.6L0.69,0L1.04,0.6L0.35,0.6L0,1.2L-0.35,0.6L-1.04,0.6L-0.69,0L-1.04,-0.6L-0.35,-0.6Z','M-4.4,0L4.4,0M-1.1,0L1.1,0M0,-1.1L0,1.1','M-4.4,0L4.4,0M0,-1.25L0.85,0L0,1.25L-0.85,0Z','M-4.4,0L4.4,0M-1.1,0L1.1,0M0,-1.1L0,1.1M-0.78,-0.78L0.78,0.78M-0.78,0.78L0.78,-0.78','M-4.4,0L4.4,0M1.1,0L-0.75,-1L-0.75,1Z'][datum.index]"}},
             "strokeDash": {"value": {"expr": "[[1,0],[7,3,2,3],[8,4],[1,0],[7,3,2,3],[8,4],[1,0],[7,3,2,3],[8,4],[1,0],[1,0],[1,0]][datum.index]"}},
             "fill": {"value": {"expr": "['#FF0000','transparent','#FF0000','#000000','#000000','transparent','transparent','#0000FF','transparent','#00FF00','#FF00FF','#00FFFF'][datum.index]"}},
             "fillOpacity": {"value": 1}
           }}}},
       "strokeDash": {"field": "s", "type": "nominal", "legend": null,
         "scale": {"domain": ["UF, 100m, COA","UF, 100m, CO","UF, 100m, PW","AMF, 50m, COA","MF, 50m, COA","UF, 50m, COA","AMF, 50m, CO","MF, 50m, CO","UF, 50m, CO","AMF, 50m, PW","MF, 50m, PW","UF, 50m, PW"],
                   "range": [[1,0],[1,0],[1,0],[8,4],[7,3,2,3],[1,0],[8,4],[7,3,2,3],[1,0],[8,4],[7,3,2,3],[1,0]]}}
     }},
    {"mark": {"type": "point", "clip": true, "opacity": 1, "size": 42, "strokeWidth": 1.3},
     "encoding": {
       "shape": {"field": "s", "type": "nominal", "legend": null,
         "scale": {"domain": ["UF, 100m, COA","UF, 100m, CO","UF, 100m, PW","AMF, 50m, COA","MF, 50m, COA","UF, 50m, COA","AMF, 50m, CO","MF, 50m, CO","UF, 50m, CO","AMF, 50m, PW","MF, 50m, PW","UF, 50m, PW"],
                   "range": ["M1.1,0L-0.75,-1L-0.75,1Z","M-1.1,0L1.1,0M0,-1.1L0,1.1M-0.78,-0.78L0.78,0.78M-0.78,0.78L0.78,-0.78","M0,-1.25L0.85,0L0,1.25L-0.85,0Z","M-1.1,0L1.1,0M0,-1.1L0,1.1","M0,-1.2L0.35,-0.6L1.04,-0.6L0.69,0L1.04,0.6L0.35,0.6L0,1.2L-0.35,0.6L-1.04,0.6L-0.69,0L-1.04,-0.6L-0.35,-0.6Z","M-1,0A1,1,0,1,0,1,0A1,1,0,1,0,-1,0Z","M-0.85,-0.85L0.85,0.85M-0.85,0.85L0.85,-0.85","M0,-1.1L1,0.75L-1,0.75Z","M0,-1.25L0.28,-0.39L1.19,-0.39L0.46,0.15L0.73,1.01L0,0.48L-0.73,1.01L-0.46,0.15L-1.19,-0.39L-0.28,-0.39Z","M-1.1,0L0.75,-1L0.75,1Z","M0,-1.25L0.85,0L0,1.25L-0.85,0Z","M0,-1.2L0.35,-0.6L1.04,-0.6L0.69,0L1.04,0.6L0.35,0.6L0,1.2L-0.35,0.6L-1.04,0.6L-0.69,0L-1.04,-0.6L-0.35,-0.6Z"]}},
       "stroke": {"field": "s", "type": "nominal", "legend": null,
         "scale": {"domain": ["UF, 100m, COA","UF, 100m, CO","UF, 100m, PW","AMF, 50m, COA","MF, 50m, COA","UF, 50m, COA","AMF, 50m, CO","MF, 50m, CO","UF, 50m, CO","AMF, 50m, PW","MF, 50m, PW","UF, 50m, PW"],
                   "range": ["#00FFFF","#FF00FF","#00FF00","#0000FF","#0000FF","#0000FF","#000000","#000000","#000000","#FF0000","#FF0000","#FF0000"]}},
       "fill": {"field": "s", "type": "nominal", "legend": null,
         "scale": {"domain": ["UF, 100m, COA","UF, 100m, CO","UF, 100m, PW","AMF, 50m, COA","MF, 50m, COA","UF, 50m, COA","AMF, 50m, CO","MF, 50m, CO","UF, 50m, CO","AMF, 50m, PW","MF, 50m, PW","UF, 50m, PW"],
                   "range": ["#00FFFF","#FF00FF","#00FF00","transparent","#0000FF","transparent","transparent","#000000","#000000","#FF0000","transparent","#FF0000"]}}
     }}
  ]
}
]
}
